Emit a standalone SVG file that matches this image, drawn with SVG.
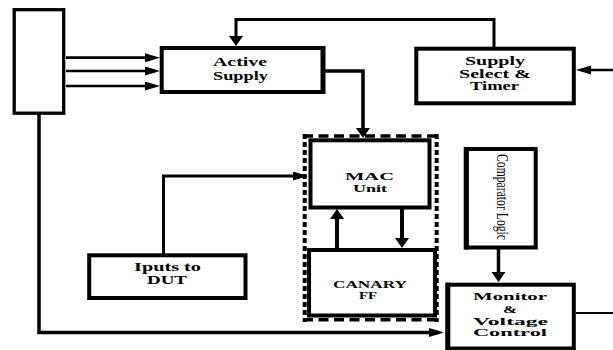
<svg xmlns="http://www.w3.org/2000/svg" width="613" height="350" viewBox="0 0 613 350">
<defs>
<style>
.box{fill:#fff;stroke:#000;stroke-width:4}
.ln{fill:none;stroke:#000;stroke-width:3}
.t{font-family:"Liberation Serif","Times New Roman",serif;font-weight:bold;font-size:12px;text-anchor:middle;fill:#000}
.s{font-size:10.5px}
.c{font-family:"Liberation Serif","Times New Roman",serif;font-size:17px;text-anchor:middle;fill:#000}
.dh{fill:none;stroke:#000;stroke-width:3.5;stroke-dasharray:10 5.5}
.dv{fill:none;stroke:#000;stroke-width:4;stroke-dasharray:5 3}
</style>
<marker id="ah" markerUnits="userSpaceOnUse" markerWidth="16" markerHeight="10" refX="10" refY="4.5" orient="auto"><path d="M0,0 L15,4.5 L0,9 z" fill="#000"/></marker>
<marker id="av" markerUnits="userSpaceOnUse" markerWidth="11" markerHeight="15" refX="6" refY="7" orient="auto"><path d="M0,0 L10,7 L0,14 z" fill="#000"/></marker>
</defs>
<rect width="613" height="350" fill="#fff"/>
<g id="connectors">
<path class="ln" style="stroke-width:2.7" d="M66 57.7 H155" marker-end="url(#ah)"/>
<path class="ln" style="stroke-width:2.7" d="M66 71 H155" marker-end="url(#ah)"/>
<path class="ln" style="stroke-width:2.7" d="M66 86 H155" marker-end="url(#ah)"/>
<path class="ln" d="M494 47 V19.5 H236 V42" marker-end="url(#av)"/>
<path class="ln" style="stroke-width:2.5" d="M613 70 H581" marker-end="url(#ah)"/>
<path class="ln" style="stroke-width:3.5" d="M325 71 H363 V134" marker-end="url(#av)"/>
<path class="ln" d="M163.5 254 V176 H303" marker-end="url(#ah)"/>
<path class="ln" style="stroke-width:4" d="M402 209 V244" marker-end="url(#av)"/>
<path class="ln" style="stroke-width:4" d="M337 249 V213" marker-end="url(#av)"/>
<path class="ln" style="stroke-width:3.5" d="M498.5 249 V278" marker-end="url(#av)"/>
<path class="ln" style="stroke-width:3.5" d="M39 114 V332.5 H439" marker-end="url(#ah)"/>
<path class="ln" style="stroke-width:2" d="M576 313 H613"/>
</g>
<g id="left-block"><rect class="box" x="14.2" y="9.7" width="49.5" height="103.5" style="stroke-width:3.3"/></g>
<g id="active-supply">
<rect class="box" x="161.7" y="48" width="161.3" height="44"/>
<line x1="323" y1="46" x2="323" y2="94" stroke="#000" stroke-width="5"/>
<text class="t" x="240" y="66" textLength="54" lengthAdjust="spacingAndGlyphs">Active</text>
<text class="t" x="240.5" y="79.5" textLength="55" lengthAdjust="spacingAndGlyphs">Supply</text>
</g>
<g id="supply-select-timer">
<rect class="box" x="416.3" y="48.7" width="157.5" height="54.6"/>
<text class="t" x="495" y="65" textLength="60" lengthAdjust="spacingAndGlyphs">Supply</text>
<text class="t" x="495" y="77.5" textLength="72" lengthAdjust="spacingAndGlyphs">Select &amp;</text>
<text class="t" x="494.5" y="90" textLength="49" lengthAdjust="spacingAndGlyphs">Timer</text>
</g>
<g id="dashed-group">
<line class="dh" x1="303" y1="136" x2="439" y2="136"/>
<line class="dh" x1="303" y1="319.7" x2="439" y2="319.7"/>
<line class="dv" x1="304.7" y1="134" x2="304.7" y2="322"/>
<line class="dv" x1="436.7" y1="134" x2="436.7" y2="322"/>
</g>
<g id="mac-unit">
<rect class="box" x="310.5" y="140.3" width="119" height="67.2"/>
<text class="t s" x="369.5" y="180" textLength="49" lengthAdjust="spacingAndGlyphs">MAC</text>
<text class="t s" x="370" y="192" textLength="34" lengthAdjust="spacingAndGlyphs">Unit</text>
</g>
<g id="canary-ff">
<rect class="box" x="309" y="250" width="126" height="65.5"/>
<text class="t" x="370" y="288" textLength="74" lengthAdjust="spacingAndGlyphs" style="font-size:9.5px">CANARY</text>
<text class="t" x="368" y="299" textLength="18" lengthAdjust="spacingAndGlyphs" style="font-size:9.5px">FF</text>
</g>
<g id="comparator-logic">
<rect class="box" x="466.7" y="149" width="69" height="98.5"/>
<line x1="466.2" y1="147" x2="466.2" y2="249.5" stroke="#000" stroke-width="5"/>
<text class="c" transform="translate(496.5,197) rotate(90)" x="0" y="0" textLength="86" lengthAdjust="spacingAndGlyphs">Comparator Logic</text>
</g>
<g id="inputs-to-dut">
<rect class="box" x="89.2" y="255.3" width="156.3" height="42.7"/>
<text class="t" x="167.5" y="271" textLength="67" lengthAdjust="spacingAndGlyphs">Iputs to</text>
<text class="t" x="167" y="284" textLength="40" lengthAdjust="spacingAndGlyphs">DUT</text>
</g>
<g id="monitor-voltage-control">
<rect class="box" x="447.8" y="284.7" width="126" height="63.8"/>
<line x1="447.8" y1="282.7" x2="447.8" y2="350" stroke="#000" stroke-width="5"/>
<text class="t s" x="510" y="300" textLength="74" lengthAdjust="spacingAndGlyphs">Monitor</text>
<text class="t s" x="510" y="313" textLength="14" lengthAdjust="spacingAndGlyphs">&amp;</text>
<text class="t s" x="510.5" y="325" textLength="75" lengthAdjust="spacingAndGlyphs">Voltage</text>
<text class="t s" x="510" y="336" textLength="74" lengthAdjust="spacingAndGlyphs">Control</text>
</g>
</svg>
